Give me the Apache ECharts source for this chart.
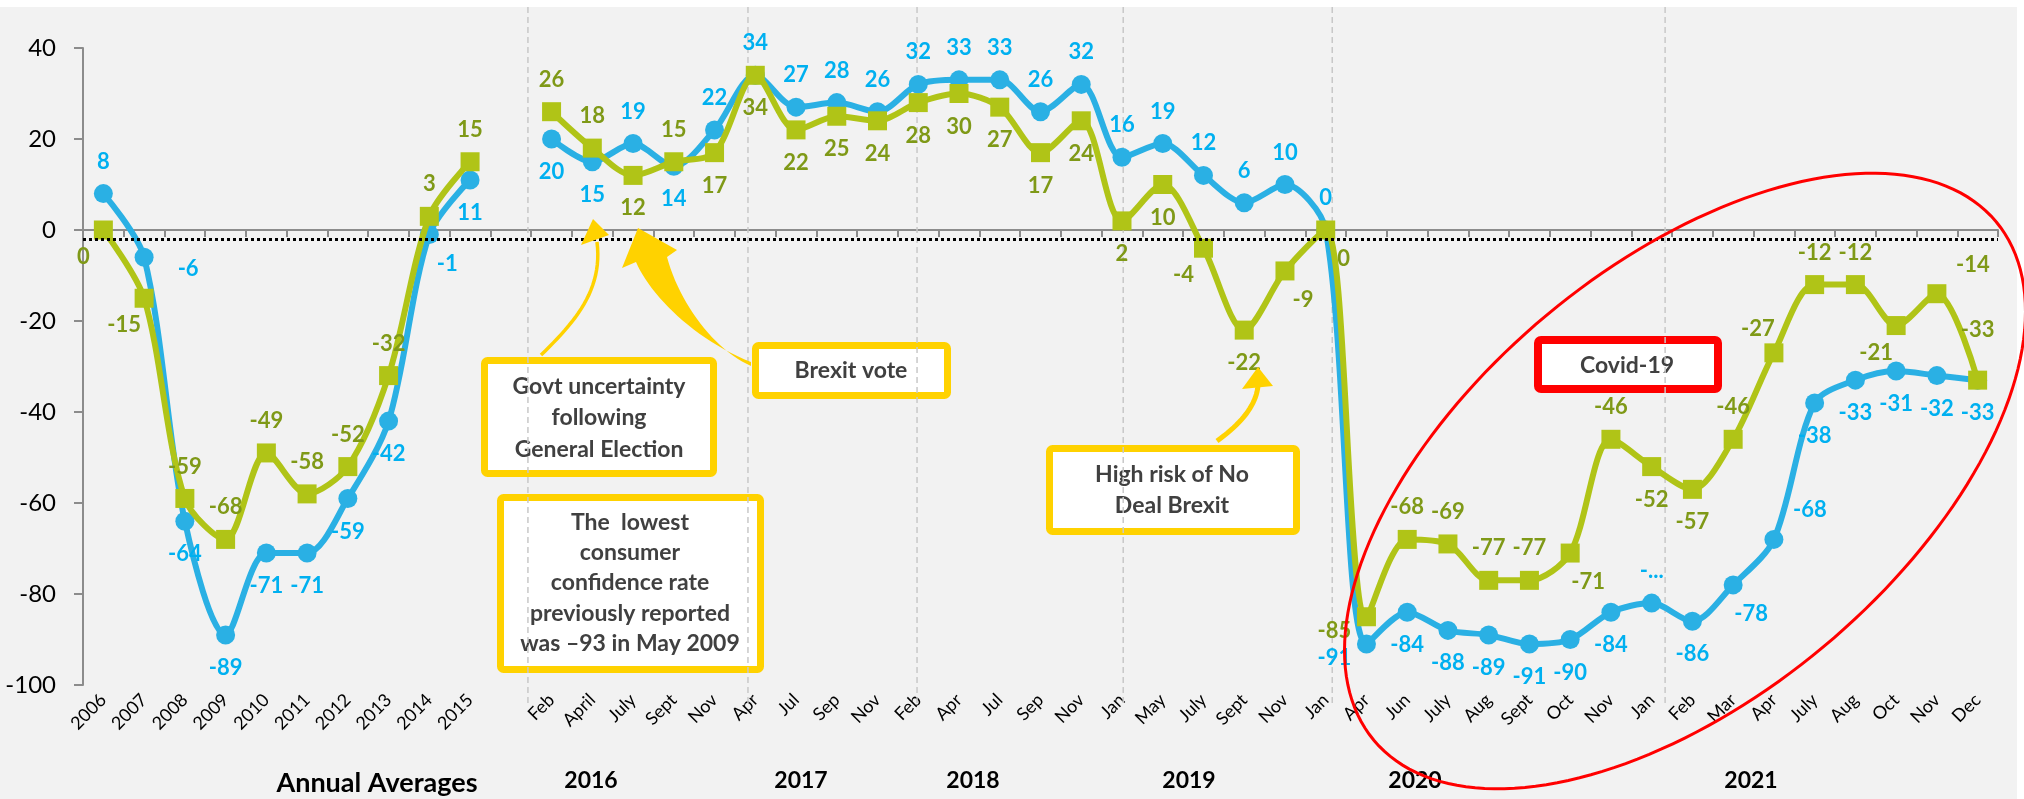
<!DOCTYPE html>
<html>
<head>
<meta charset="utf-8">
<title>Consumer confidence</title>
<script src="https://cdn.jsdelivr.net/npm/echarts@6.0.0/dist/echarts.min.js"></script>
<style>
  html, body { margin: 0; padding: 0; background: #fff; }
  #chart { width: 2024px; height: 799px; }
</style>
</head>
<body>
<div id="chart"></div>
<script>
  // annual averages, one empty slot, then the monthly readings 2016 - 2021
  const categories = [
    '2006', '2007', '2008', '2009', '2010', '2011', '2012', '2013', '2014', '2015', '',
    'Feb', 'April', 'July', 'Sept', 'Nov',
    'Apr', 'Jul', 'Sep', 'Nov',
    'Feb', 'Apr', 'Jul', 'Sep', 'Nov',
    'Jan', 'May', 'July', 'Sept', 'Nov',
    'Jan',
    'Apr', 'Jun', 'July', 'Aug', 'Sept', 'Oct', 'Nov',
    'Jan',
    'Feb', 'Mar', 'Apr', 'July', 'Aug', 'Oct', 'Nov', 'Dec'
  ];

  const blueValues = [
    8, -6, -64, -89, -71, -71, -59, -42, -1, 11, null,
    20, 15, 19, 14, 22,
    34, 27, 28, 26,
    32, 33, 33, 26, 32,
    16, 19, 12, 6, 10,
    0,
    -91, -84, -88, -89, -91, -90, -84,
    -82,
    -86, -78, -68, -38, -33, -31, -32, -33
  ];

  const greenValues = [
    0, -15, -59, -68, -49, -58, -52, -32, 3, 15, null,
    26, 18, 12, 15, 17,
    34, 22, 25, 24,
    28, 30, 27, 17, 24,
    2, 10, -4, -22, -9,
    0,
    -85, -68, -69, -77, -77, -71, -46,
    -52,
    -57, -46, -27, -12, -12, -21, -14, -33
  ];

  const yMin = -100, yMax = 40, yStep = 20;

  // where each value label sits relative to its marker
  const blueLabelPlace = [
    'T', 'R', 'B', 'B', 'B', 'B', 'B', 'B', 'BR', 'B', '',
    'B', 'B', 'T', 'B', 'T',
    'T', 'T', 'T', 'T',
    'T', 'T', 'T', 'T', 'T',
    'T', 'T', 'T', 'T', 'T',
    'T',
    'L', 'B', 'B', 'B', 'B', 'B', 'B',
    'T',
    'B', 'BR', 'TR', 'B', 'B', 'B', 'B', 'B'
  ];
  const greenLabelPlace = [
    'BL', 'BL', 'T', 'T', 'T', 'T', 'T', 'T', 'T', 'T', '',
    'T', 'T', 'B', 'T', 'B',
    'B', 'B', 'B', 'B',
    'B', 'B', 'B', 'B', 'B',
    'B', 'B', 'BL', 'B', 'BR',
    'BR',
    'L', 'T', 'T', 'T', 'T', 'BR', 'T',
    'B',
    'B', 'T', 'TL', 'T', 'T', 'BL', 'TR', 'T2'
  ];
  const labelOffsets = {
    T: [0, -32], B: [0, 33], L: [-32, 14], R: [44, 12],
    BR: [18, 29], BL: [-20, 27], TR: [36, -29], TL: [-16, -24], T2: [0, -50]
  };
  // Jan 2021 label is cut short in the original
  const truncatedBlue = [38];

  // year separators, in category units from the left edge of the axis
  const dividers = [10.92, 16.32, 20.47, 25.53, 30.66, 38.83];

  const BLUE = '#2AB0E4', BLUE_TXT = '#00B0F0';
  const GREEN = '#B0C417', GREEN_TXT = '#7F9917';
  const YELLOW = '#FFD200';
  const FONT = 'Lato';

  function buildData(values, places, truncated) {
    return values.map(function (v, i) {
      if (v == null) return '-';
      var item = { value: v, label: { offset: labelOffsets[places[i]] } };
      if (truncated.indexOf(i) >= 0) item.label.formatter = '-...';
      return item;
    });
  }

  let chart = echarts.init(document.getElementById('chart'));

  const labelBase = {
    show: true,
    position: 'inside',
    fontFamily: FONT,
    fontWeight: 'bold',
    fontSize: 22,
    textBorderWidth: 0
  };

  chart.setOption({
    animation: false,
    backgroundColor: '#F2F2F2',
    grid: {
      left: 83,
      right: 26,
      top: 48,
      bottom: 114,
      containLabel: false,
      outerBoundsMode: 'none'
    },
    xAxis: {
      type: 'category',
      data: categories,
      boundaryGap: true,
      axisLine: { lineStyle: { color: '#8C8C8C', width: 2 } },
      axisTick: { show: true, interval: 0, length: 7, lineStyle: { color: '#8C8C8C', width: 2 } },
      axisLabel: {
        interval: 0,
        rotate: 45,
        margin: 12,
        fontFamily: FONT,
        fontSize: 18,
        color: '#000'
      },
      splitLine: { show: false }
    },
    yAxis: {
      type: 'value',
      min: yMin,
      max: yMax,
      interval: yStep,
      axisLine: { show: true, lineStyle: { color: '#8C8C8C', width: 2 } },
      axisTick: { show: true, length: 9, lineStyle: { color: '#8C8C8C', width: 2 } },
      axisLabel: { margin: 27, fontFamily: FONT, fontSize: 24, color: '#000' },
      splitLine: { show: false }
    },
    series: [
      {
        name: 'Series 1',
        type: 'line',
        data: buildData(blueValues, blueLabelPlace, truncatedBlue),
        smooth: 0.3,
        connectNulls: false,
        symbol: 'circle',
        symbolSize: 19,
        lineStyle: { color: BLUE, width: 6 },
        itemStyle: { color: BLUE },
        label: Object.assign({ color: BLUE_TXT }, labelBase),
        emphasis: { disabled: true },
        z: 3
      },
      {
        name: 'Series 2',
        type: 'line',
        data: buildData(greenValues, greenLabelPlace, []),
        smooth: 0.3,
        connectNulls: false,
        symbol: 'rect',
        symbolSize: 19,
        lineStyle: { color: GREEN, width: 6 },
        itemStyle: { color: GREEN },
        label: Object.assign({ color: GREEN_TXT }, labelBase),
        emphasis: { disabled: true },
        markLine: {
          silent: true,
          symbol: 'none',
          label: { show: false },
          lineStyle: { color: '#000', type: [3, 3], width: 3 },
          data: [{ yAxis: -2 }]
        },
        z: 4
      }
    ]
  });

  // pixel helpers for the annotation layer
  const c0 = chart.convertToPixel({ xAxisIndex: 0 }, 0);
  const c1 = chart.convertToPixel({ xAxisIndex: 0 }, 1);
  const catW = c1 - c0;
  function catX(k) { return c0 + (k - 0.5) * catW; }

  // sample a cubic bezier into points
  function cubic(p0, p1, p2, p3, n) {
    var pts = [];
    for (var i = 0; i <= n; i++) {
      var t = i / n, u = 1 - t;
      pts.push([
        u * u * u * p0[0] + 3 * u * u * t * p1[0] + 3 * u * t * t * p2[0] + t * t * t * p3[0],
        u * u * u * p0[1] + 3 * u * u * t * p1[1] + 3 * u * t * t * p2[1] + t * t * t * p3[1]
      ]);
    }
    return pts;
  }
  function ellipsePts(cx, cy, rx, ry, deg, n) {
    var a = -deg * Math.PI / 180, pts = [];
    for (var i = 0; i <= n; i++) {
      var t = 2 * Math.PI * i / n;
      var ex = rx * Math.cos(t), ey = ry * Math.sin(t);
      pts.push([cx + ex * Math.cos(a) - ey * Math.sin(a), cy + ex * Math.sin(a) + ey * Math.cos(a)]);
    }
    return pts;
  }

  function box(x, y, w, h, color, lw) {
    return {
      type: 'rect',
      shape: { x: x + lw / 2, y: y + lw / 2, width: w - lw, height: h - lw, r: 3 },
      style: { fill: '#fff', stroke: color, lineWidth: lw },
      z: 0
    };
  }
  function boxText(txt, x, y, lh) {
    return {
      type: 'text',
      x: x, y: y,
      style: {
        text: txt,
        align: 'center',
        verticalAlign: 'middle',
        fontFamily: FONT,
        fontWeight: 'bold',
        fontSize: 23,
        lineHeight: lh,
        fill: '#404040'
      },
      z: 1
    };
  }
  function caption(txt, x, y, size) {
    return {
      type: 'text',
      x: x, y: y,
      style: {
        text: txt,
        align: 'center',
        verticalAlign: 'middle',
        fontFamily: FONT,
        fontWeight: 'bold',
        fontSize: size,
        fill: '#000'
      },
      z: 1
    };
  }

  // tapered arrow body from the Brexit vote box
  const thickArrow = cubic([751, 366], [715, 350], [680, 305], [667, 257], 24)
    .concat([[677, 250], [638, 228], [622, 268]])
    .concat(cubic([636, 262], [650, 295], [695, 340], [751, 362], 24));

  const graphics = [
    { type: 'rect', shape: { x: 0, y: 0, width: 2024, height: 7 }, style: { fill: '#fff' }, z: 0 },
    { type: 'rect', shape: { x: 2017, y: 0, width: 7, height: 799 }, style: { fill: '#fff' }, z: 0 },

    box(481, 357, 236, 120, YELLOW, 7),
    boxText('Govt uncertainty\nfollowing\nGeneral Election', 599, 418, 31.7),
    box(752, 342, 199, 57, YELLOW, 7),
    boxText('Brexit vote', 851, 371, 30),
    box(497, 494, 267, 179, YELLOW, 7),
    boxText('The  lowest\nconsumer\nconfidence rate\npreviously reported\nwas \u201393 in May 2009', 630, 583, 30.3),
    box(1046, 445, 254, 90, YELLOW, 7),
    boxText('High risk of No\nDeal Brexit', 1172, 490, 31.6),
    box(1534, 336, 188, 57, '#FF0000', 8),
    boxText('Covid-19', 1627, 366, 30),

    caption('Annual Averages', 377, 783, 27),
    caption('2016', 591, 781, 23),
    caption('2017', 801, 781, 23),
    caption('2018', 973, 781, 23),
    caption('2019', 1189, 781, 23),
    caption('2020', 1415, 781, 23),
    caption('2021', 1751, 781, 23),

    // thin arrow from the election box
    {
      type: 'polyline',
      shape: { points: cubic([541, 355], [575, 322], [603, 290], [597, 242], 24) },
      style: { fill: null, stroke: YELLOW, lineWidth: 3.5 },
      z: 10
    },
    {
      type: 'polygon',
      shape: { points: [[593, 219], [581, 245], [609, 235]] },
      style: { fill: YELLOW },
      z: 10
    },
    {
      type: 'polygon',
      shape: { points: thickArrow },
      style: { fill: YELLOW },
      z: 10
    },
    // arrow from the no-deal box
    {
      type: 'polyline',
      shape: { points: cubic([1217, 441], [1242, 423], [1256, 405], [1258, 386], 20) },
      style: { fill: null, stroke: YELLOW, lineWidth: 5 },
      z: 10
    },
    {
      type: 'polygon',
      shape: { points: [[1258, 367], [1242, 389], [1273, 386]] },
      style: { fill: YELLOW },
      z: 10
    },
    // Covid ring
    {
      type: 'polyline',
      shape: { points: ellipsePts(1685, 481, 405, 216, 39.8, 180) },
      style: { fill: null, stroke: '#FF0000', lineWidth: 3 },
      z: 10
    }
  ];

  dividers.forEach(function (k) {
    const x = catX(k);
    graphics.push({
      type: 'line',
      shape: { x1: x, y1: 7, x2: x, y2: 705 },
      style: { stroke: '#C8C8C8', lineWidth: 1.5, lineDash: [6, 4] },
      z: 1
    });
  });

  chart.setOption({ graphic: graphics });
</script>
</body>
</html>
